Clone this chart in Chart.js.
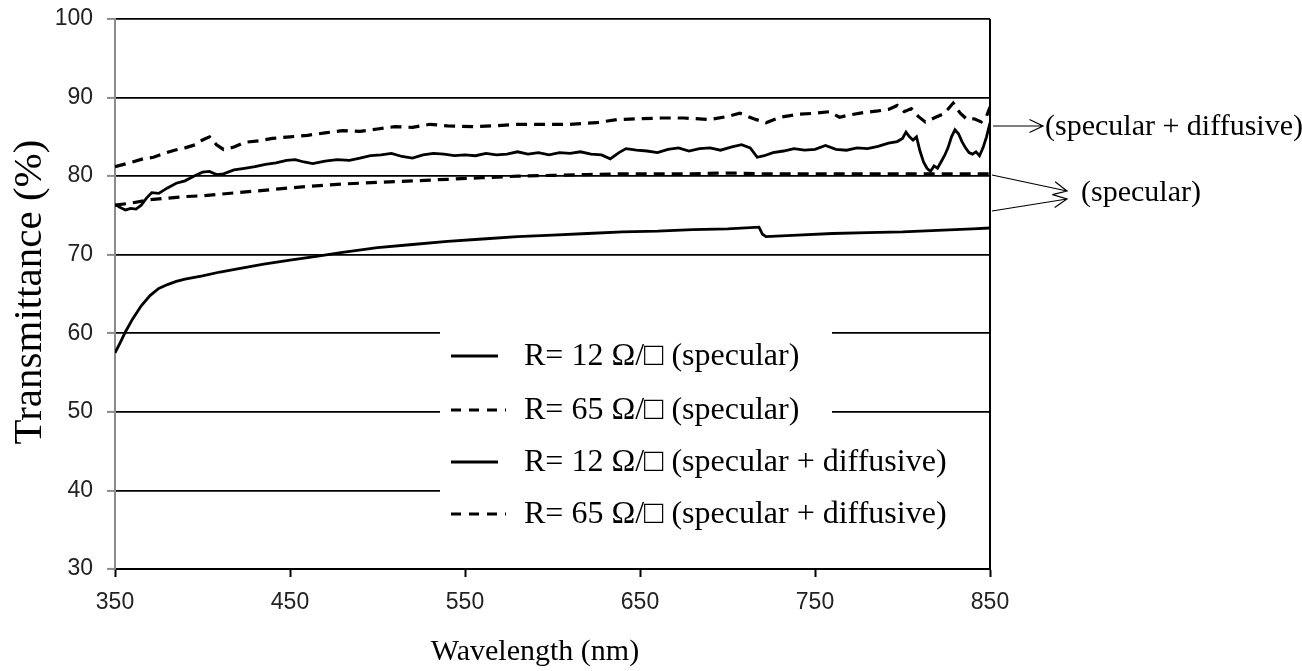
<!DOCTYPE html>
<html>
<head>
<meta charset="utf-8">
<script src="https://cdn.jsdelivr.net/npm/chart.js@4.4.1/dist/chart.umd.min.js"></script>
<style>
  html, body { margin: 0; padding: 0; background: #fff; }
  #wrap { width: 1302px; height: 671px; }
</style>
</head>
<body>
<div id="wrap"><canvas id="chart"></canvas></div>
<script>
// R = 12 ohm/sq, specular
const wl12Spec = [350,353,356,360,365,370,375,380,385,390,400,410,420,435,450,465,480,500,520,540,560,580,600,620,640,660,680,700,718,720,722,740,760,780,800,820,840,850];
const t12Spec  = [57.5,58.8,60.2,61.8,63.5,64.8,65.7,66.2,66.6,66.9,67.3,67.8,68.2,68.8,69.3,69.8,70.3,70.9,71.3,71.7,72.0,72.3,72.5,72.7,72.9,73.0,73.2,73.3,73.5,72.6,72.3,72.5,72.7,72.8,72.9,73.1,73.3,73.4];

// R = 65 ohm/sq, specular
const wl65Spec = [350,360,370,380,390,400,420,440,460,480,500,520,540,560,580,600,620,640,660,680,700,720,740,760,780,800,820,840,850];
const t65Spec  = [76.3,76.6,77.0,77.2,77.4,77.5,77.9,78.3,78.7,79.0,79.2,79.4,79.6,79.8,80.0,80.1,80.2,80.3,80.3,80.3,80.4,80.3,80.3,80.3,80.3,80.3,80.3,80.3,80.3];

// R = 12 ohm/sq, specular + diffusive
const wl12Diff = [350,353,356,359,362,365,368,371,375,380,385,390,395,400,404,408,412,418,424,430,436,442,448,453,458,463,470,477,484,490,
  496,502,508,514,520,526,532,538,544,550,556,562,568,574,580,586,592,598,604,610,616,622,628,633,638,642,648,654,660,666,
  672,678,684,690,696,702,708,713,717,721,726,732,738,744,750,756,762,768,774,780,786,792,797,800,802,804,806,808,810,812,
  814,816,818,820,822,824,826,828,830,832,834,836,838,840,842,844,846,848,850];
const t12Diff  = [76.4,76.0,75.7,75.9,75.8,76.3,77.2,77.9,77.8,78.5,79.1,79.4,80.0,80.5,80.6,80.2,80.3,80.8,81.0,81.2,81.5,81.7,82.0,82.1,81.8,81.6,81.9,82.1,82.0,82.3,
  82.6,82.7,82.9,82.5,82.3,82.7,82.9,82.8,82.6,82.7,82.6,82.9,82.7,82.8,83.1,82.8,83.0,82.7,83.0,82.9,83.1,82.8,82.7,82.2,83.0,83.5,83.3,83.2,83.0,83.4,
  83.6,83.2,83.5,83.6,83.3,83.7,84.0,83.6,82.4,82.6,83.0,83.2,83.5,83.3,83.4,83.9,83.4,83.3,83.6,83.5,83.8,84.2,84.4,84.8,85.6,85.0,84.6,85.0,83.2,81.8,
  81.0,80.6,81.3,81.0,81.8,82.6,83.6,85.0,85.9,85.4,84.4,83.6,83.0,82.8,83.1,82.6,83.6,85.0,86.8];

// R = 65 ohm/sq, specular + diffusive
const wl65Diff = [350,355,360,366,372,378,384,390,396,400,404,408,412,418,424,432,440,450,460,470,480,490,500,510,520,530,540,555,566,580,
  595,610,625,637,650,662,675,690,700,707,715,722,730,741,750,758,764,770,778,786,792,797,801,805,809,813,818,824,829,833,
  837,841,845,848,850];
const t65Diff  = [81.2,81.5,81.8,82.2,82.4,82.9,83.3,83.6,84.0,84.6,85.0,84.0,83.4,83.7,84.3,84.5,84.8,85.0,85.2,85.5,85.8,85.7,86.0,86.3,86.2,86.6,86.4,86.3,86.4,86.6,
  86.6,86.6,86.8,87.2,87.3,87.4,87.4,87.2,87.6,88.0,87.3,86.8,87.5,87.9,88.0,88.2,87.5,87.8,88.1,88.3,88.5,89.0,88.2,88.6,87.6,86.9,87.4,88.0,89.3,88.0,
  87.2,87.3,86.9,87.6,88.8];

const xTicks = [350, 450, 550, 650, 750, 850];
const yTicks = [30, 40, 50, 60, 70, 80, 90, 100];

const seriesNames = [
  'R= 12 \u03A9/\u25A1 (specular)',
  'R= 65 \u03A9/\u25A1 (specular)',
  'R= 12 \u03A9/\u25A1 (specular + diffusive)',
  'R= 65 \u03A9/\u25A1 (specular + diffusive)'
];
const seriesDashed = [false, true, false, true];

const xTitle = 'Wavelength (nm)';
const yTitle = 'Transmittance (%)';

function pts(xs, ys) {
  return xs.map((x, i) => ({ x: x, y: ys[i] }));
}

const serif = '"Liberation Serif", "Times New Roman", serif';
const DASH = [11, 7];

const datasets = [
  [wl12Spec, t12Spec],
  [wl65Spec, t65Spec],
  [wl12Diff, t12Diff],
  [wl65Diff, t65Diff]
].map((s, i) => ({
  label: seriesNames[i],
  data: pts(s[0], s[1]),
  borderColor: '#000',
  borderWidth: seriesDashed[i] ? 3.2 : 2.8,
  borderDash: seriesDashed[i] ? DASH : [],
  pointRadius: 0,
  tension: 0,
  fill: false
}));

function arrow(ctx, x1, y1, x2, y2) {
  const a = Math.atan2(y2 - y1, x2 - x1);
  const h = 15, w = 0.45;
  ctx.beginPath();
  ctx.moveTo(x1, y1);
  ctx.lineTo(x2, y2);
  ctx.moveTo(x2 - h * Math.cos(a - w), y2 - h * Math.sin(a - w));
  ctx.lineTo(x2, y2);
  ctx.lineTo(x2 - h * Math.cos(a + w), y2 - h * Math.sin(a + w));
  ctx.stroke();
}

// legend box, right border, titles and side notes
const decor = {
  id: 'decor',
  afterDatasetsDraw(chart) {
    const ctx = chart.ctx;
    const area = chart.chartArea;
    ctx.save();

    // white legend panel over the grid
    ctx.fillStyle = '#fff';
    ctx.fillRect(440, 329, 392, 112);
    ctx.fillRect(440, 440, area.right - 441, 96);

    const rowY = [356, 410, 462, 514];
    ctx.strokeStyle = '#000';
    ctx.fillStyle = '#000';
    ctx.font = '32px ' + serif;
    ctx.textBaseline = 'middle';
    ctx.textAlign = 'left';
    rowY.forEach((y, i) => {
      ctx.lineWidth = seriesDashed[i] ? 3.2 : 2.8;
      ctx.setLineDash(seriesDashed[i] ? [10, 8] : []);
      ctx.beginPath();
      ctx.moveTo(451, y);
      ctx.lineTo(seriesDashed[i] ? 506 : 498, y);
      ctx.stroke();
      ctx.setLineDash([]);
      ctx.fillText(seriesNames[i], 524, y + 1);
    });

    // right frame line
    ctx.lineWidth = 2;
    ctx.beginPath();
    ctx.moveTo(area.right, area.top);
    ctx.lineTo(area.right, area.bottom);
    ctx.stroke();

    // side notes
    ctx.lineWidth = 1.2;
    arrow(ctx, area.right + 3, 126, area.right + 53, 126);
    arrow(ctx, area.right + 2, 175, 1067, 191);
    arrow(ctx, area.right + 2, 211, 1067, 199);
    ctx.font = '30px ' + serif;
    ctx.fillText('(specular + diffusive)', area.right + 55, 127);
    ctx.fillText('(specular)', 1081, 193);

    // axis titles
    ctx.textAlign = 'center';
    ctx.font = '30px ' + serif;
    ctx.fillText(xTitle, 535, 652);
    ctx.translate(30, 292);
    ctx.rotate(-Math.PI / 2);
    ctx.font = '41px ' + serif;
    ctx.fillText(yTitle, 0, 0);

    ctx.restore();
  }
};

const tickFont = { family: '"Liberation Sans", Arial, sans-serif', size: 23 };

new Chart(document.getElementById('chart'), {
  type: 'line',
  data: { datasets: datasets },
  plugins: [decor],
  options: {
    responsive: true,
    maintainAspectRatio: false,
    animation: false,
    layout: { padding: { left: 0, right: 312, top: 19, bottom: 0 } },
    plugins: {
      legend: { display: false },
      tooltip: { enabled: false }
    },
    scales: {
      x: {
        type: 'linear',
        min: 350,
        max: 850,
        afterBuildTicks: s => { s.ticks = xTicks.map(v => ({ value: v })); },
        afterFit: s => { s.height = 102; s.paddingLeft = 0; s.paddingRight = 0; },
        ticks: { color: '#222', font: tickFont, padding: 12, maxRotation: 0 },
        grid: { drawOnChartArea: false, drawTicks: true, tickLength: 8, tickColor: '#000', tickWidth: 2 },
        border: { color: '#000', width: 2 }
      },
      y: {
        min: 30,
        max: 100,
        afterBuildTicks: s => { s.ticks = yTicks.map(v => ({ value: v })); },
        afterFit: s => { s.width = 115; s.paddingTop = 0; s.paddingBottom = 0; },
        ticks: { color: '#222', font: tickFont, padding: 14 },
        grid: { color: '#000', lineWidth: 1.8, tickColor: '#8c8c8c', tickLength: 8, tickWidth: 2 },
        border: { color: '#8c8c8c', width: 2 }
      }
    }
  }
});
</script>
</body>
</html>
